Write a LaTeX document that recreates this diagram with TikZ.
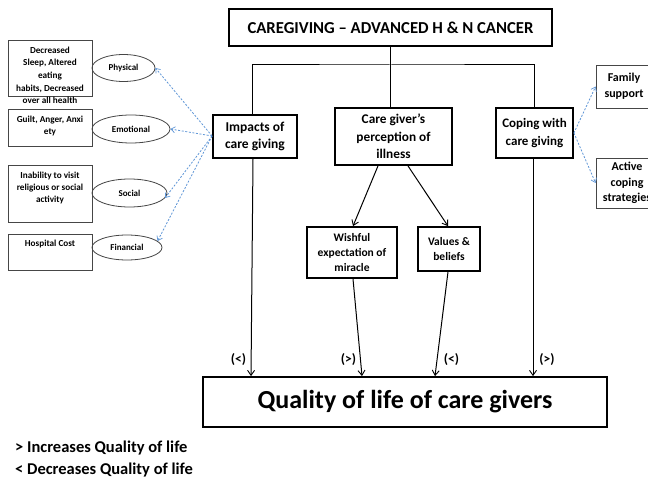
\documentclass[tikz,border=0pt]{standalone}
\usepackage{fontspec}
\setmainfont{Carlito}
\usetikzlibrary{arrows.meta,shapes.geometric}

\definecolor{linkblue}{RGB}{95,150,215}
\definecolor{thingray}{RGB}{70,70,70}

\newcommand{\fs}[2]{\fontsize{#1}{#2}\selectfont}

\begin{document}
\begin{tikzpicture}[x=1pt,y=-1pt,
  font=\bfseries,
  mainbox/.style={draw=black,line width=1.8pt,inner sep=0pt,align=center},
  thinbox/.style={draw=thingray,line width=0.8pt,inner sep=0pt},
  oval/.style={ellipse,draw=thingray,line width=0.8pt,inner sep=0pt},
  plain/.style={inner sep=0pt,align=center},
  link/.style={line width=1pt,draw=black},
  linkarrow/.style={link,-{Straight Barb[length=5pt,width=7pt,line width=0.9pt]}},
  bluearrow/.style={draw=linkblue,line width=0.8pt,dash pattern=on 2pt off 1.6pt,
    -{Straight Barb[length=4pt,width=6pt,line width=0.7pt]}},
  signlabel/.style={inner sep=0pt,font=\fs{13.5}{15}\bfseries}]
\clip (0,0) rectangle (648,481);
\fill[white] (0,0) rectangle (648,481);

% headline
\node[mainbox,minimum width=323,minimum height=37,font=\fs{16.7}{20}\bfseries]
  (top) at (390.5,27.5) {CAREGIVING – ADVANCED H \& N CANCER};

% three branches
\node[mainbox,minimum width=84,minimum height=43,font=\fs{13.5}{17.5}\bfseries]
  (impacts) at (255,136.5) {Impacts of\\care giving};
\node[mainbox,minimum width=117,minimum height=57,font=\fs{13.3}{17.3}\bfseries]
  (care) at (393.5,136.5) {Care giver’s\\perception of\\illness};
\node[mainbox,minimum width=77,minimum height=50,font=\fs{13}{18}\bfseries]
  (coping) at (534.5,133) {Coping with\\care giving};

% second level under perception
\node[mainbox,minimum width=90,minimum height=51,font=\fs{11.5}{15.3}\bfseries]
  (wishful) at (352,252.5) {Wishful\\expectation of\\miracle};
\node[mainbox,minimum width=62,minimum height=44,font=\fs{11.5}{15.3}\bfseries]
  (values) at (449,249) {Values \&\\beliefs};

% outcome
\node[mainbox,minimum width=404,minimum height=50,font=\fs{26}{30}\bfseries]
  (quality) at (405,402) {Quality of life of care givers};

% coping strategies
\node[thinbox,minimum width=56,minimum height=43,align=center,font=\fs{12}{16}\bfseries]
  (family) at (624,86.5) {Family\\support};
\node[thinbox,minimum width=62,minimum height=50,align=center,font=\fs{12}{15.5}\bfseries]
  (active) at (627,183) {Active\\coping\\strategies};

% impact categories
\node[oval,minimum width=63,minimum height=27] (physical) at (123.5,68) {};
\node[plain,font=\fs{9}{11}\bfseries] (physicaltxt) at (physical) {Physical};
\node[oval,minimum width=78,minimum height=28] (emotional) at (131,129) {};
\node[plain,font=\fs{9}{11}\bfseries] (emotionaltxt) at (emotional) {Emotional};
\node[oval,minimum width=75,minimum height=28] (social) at (129.5,193) {};
\node[plain,font=\fs{9}{11}\bfseries] (socialtxt) at (social) {Social};
\node[oval,minimum width=70,minimum height=25] (financial) at (127,247.5) {};
\node[plain,font=\fs{9}{11}\bfseries] (financialtxt) at (financial) {Financial};

% descriptions of each category
\node[thinbox,minimum width=84,minimum height=56] (d1) at (50,68) {};
\node[plain,anchor=north,font=\fs{9.2}{12.7}\bfseries] (d1txt) at (50,46.5)
  {Decreased\\Sleep, Altered\\eating\\habits, Decreased\\over all health};
\node[thinbox,minimum width=84,minimum height=37] (d2) at (50,127.5) {};
\node[plain,anchor=north,font=\fs{9.2}{12.7}\bfseries] (d2txt) at (50,115.5)
  {Guilt, Anger, Anxi\\ety};
\node[thinbox,minimum width=84,minimum height=57] (d3) at (50,193.5) {};
\node[plain,anchor=north,font=\fs{9.2}{12}\bfseries] (d3txt) at (50,172)
  {Inability to visit\\religious or social\\activity};
\node[thinbox,minimum width=84,minimum height=36] (d4) at (50,252) {};
\node[plain,anchor=north,font=\fs{9.2}{12}\bfseries] (d4txt) at (50,239.5)
  {Hospital Cost};

% tree connectors
\coordinate (hub) at (390.5,65);
\draw[link] (top.south) -- (hub);
\draw[link] (impacts.north -| 252,0) |- (hub) -| (coping.north);
\draw[link] (hub) -- (care.north -| hub);

\draw[linkarrow] ([xshift=-15.5pt]care.south) -- ([xshift=1pt]wishful.north);
\draw[linkarrow] ([xshift=14.5pt]care.south) -- ([xshift=-1pt]values.north);

\draw[linkarrow] ([xshift=-2pt]impacts.south) -- ([xshift=-154pt]quality.north);
\draw[linkarrow] ([xshift=1pt]wishful.south) -- ([xshift=-43pt]quality.north);
\draw[linkarrow] ([xshift=-1pt]values.south) -- ([xshift=30pt]quality.north);
\draw[linkarrow] ([xshift=-1.5pt]coping.south) -- ([xshift=128pt]quality.north);

% effect signs
\node[signlabel] (s1) at (238.5,360) {(<)};
\node[signlabel] (s2) at (348.5,360) {(>)};
\node[signlabel] (s3) at (451.5,360) {(<)};
\node[signlabel] (s4) at (547,360) {(>)};

% dotted links to categories
\draw[bluearrow] ([yshift=0.5pt]impacts.west) -- (physical.east);
\draw[bluearrow] ([yshift=0.5pt]impacts.west) -- (emotional.east);
\draw[bluearrow] ([yshift=0.5pt]impacts.west) -- (social.-8);
\draw[bluearrow] ([yshift=0.5pt]impacts.west) -- (financial.12);
\draw[bluearrow] (coping.east) -- (family.west);
\draw[bluearrow] (coping.east) -- (active.west);

% legend
\node[plain,anchor=west,font=\fs{16.5}{20}\bfseries] (leg1) at (15,448)
  {> Increases Quality of life};
\node[plain,anchor=west,font=\fs{16.5}{20}\bfseries] (leg2) at (15,470)
  {< Decreases Quality of life};
\end{tikzpicture}
\end{document}
